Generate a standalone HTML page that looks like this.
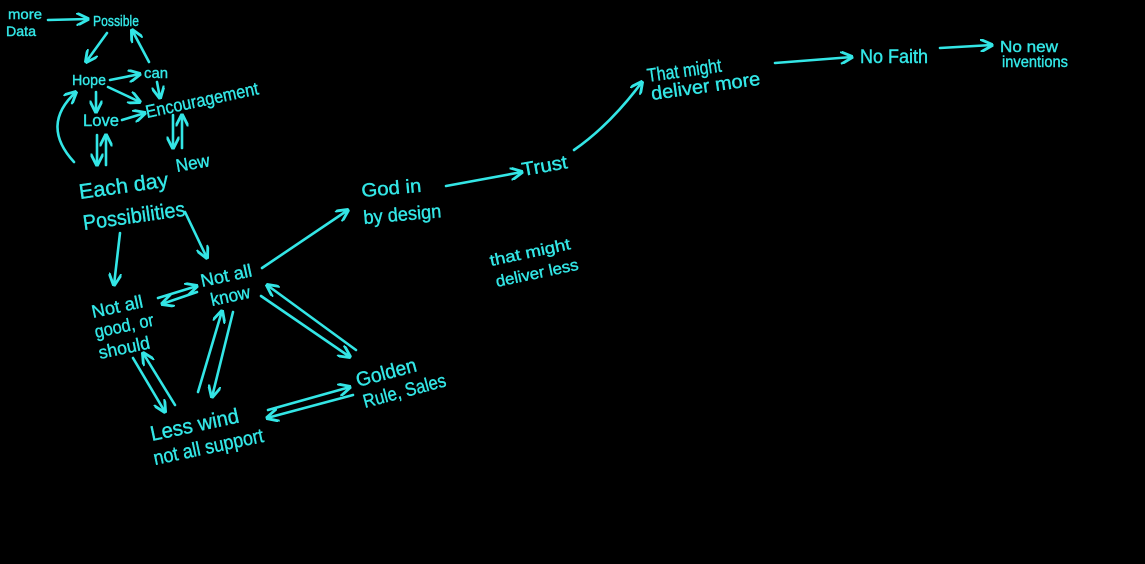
<!DOCTYPE html>
<html><head><meta charset="utf-8"><style>
html,body{margin:0;padding:0;background:#000;width:1145px;height:564px;overflow:hidden}
svg text{font-family:"Liberation Sans",sans-serif;fill:#33e6e6;stroke:#33e6e6;stroke-width:0.4}
</style></head><body>
<svg width="1145" height="564" viewBox="0 0 1145 564" xmlns="http://www.w3.org/2000/svg">
<defs><marker id="a" viewBox="0 0 10 10" refX="9" refY="5" markerWidth="5" markerHeight="5" orient="auto-start-reverse"><path d="M0,0 L10,5 L0,10" fill="none" stroke="#33e6e6" stroke-width="2.2"/></marker></defs>
<g stroke="#33e6e6" stroke-width="2.6" fill="none" marker-end="url(#a)" stroke-linecap="round">
<line x1="48" y1="20" x2="88" y2="19"/>
<line x1="107" y1="33" x2="86" y2="62"/>
<line x1="149" y1="62" x2="132" y2="30"/>
<line x1="110" y1="80" x2="140" y2="74"/>
<line x1="157" y1="82" x2="160" y2="98"/>
<line x1="108" y1="87" x2="140" y2="102"/>
<line x1="96" y1="92" x2="96" y2="112"/>
<line x1="122" y1="120" x2="145" y2="113"/>
<line x1="97" y1="135" x2="97" y2="165"/>
<line x1="106" y1="165" x2="106" y2="135"/>
<line x1="173" y1="115" x2="173" y2="148"/>
<line x1="182" y1="148" x2="182" y2="115"/>
<path d="M74,162 Q40,125 76,92"/>
<line x1="120" y1="233" x2="114" y2="285"/>
<line x1="185" y1="212" x2="207" y2="258"/>
<line x1="158" y1="298" x2="197" y2="286"/>
<line x1="197" y1="292" x2="162" y2="304"/>
<line x1="133" y1="358" x2="165" y2="412"/>
<line x1="175" y1="405" x2="143" y2="353"/>
<line x1="198" y1="392" x2="222" y2="311"/>
<line x1="233" y1="312" x2="212" y2="397"/>
<line x1="261" y1="296" x2="350" y2="357"/>
<line x1="356" y1="350" x2="267" y2="285"/>
<line x1="268" y1="410" x2="350" y2="387"/>
<line x1="353" y1="395" x2="267" y2="418"/>
<line x1="262" y1="268" x2="348" y2="210"/>
<line x1="446" y1="186" x2="522" y2="172"/>
<path d="M574,150 Q610,125 642,82"/>
<line x1="775" y1="63" x2="852" y2="57"/>
<line x1="940" y1="48" x2="992" y2="45"/>
</g>
<g>
<text lengthAdjust="spacingAndGlyphs" x="8" y="19" font-size="14" textLength="34">more</text>
<text lengthAdjust="spacingAndGlyphs" x="6" y="36" font-size="14" textLength="30">Data</text>
<text lengthAdjust="spacingAndGlyphs" x="93" y="26" font-size="15" textLength="46">Possible</text>
<text lengthAdjust="spacingAndGlyphs" x="72" y="85" font-size="15" textLength="34">Hope</text>
<text lengthAdjust="spacingAndGlyphs" x="144" y="78" font-size="15" textLength="24">can</text>
<text lengthAdjust="spacingAndGlyphs" x="83" y="126" font-size="17" textLength="36">Love</text>
<text lengthAdjust="spacingAndGlyphs" x="147" y="118" font-size="18" textLength="115" transform="rotate(-12 147 118)">Encouragement</text>
<text lengthAdjust="spacingAndGlyphs" x="177" y="172" font-size="18" textLength="34" transform="rotate(-10 177 172)">New</text>
<text lengthAdjust="spacingAndGlyphs" x="80" y="199" font-size="21" textLength="90" transform="rotate(-8 80 199)">Each day</text>
<text lengthAdjust="spacingAndGlyphs" x="84" y="230" font-size="21" textLength="103" transform="rotate(-8 84 230)">Possibilities</text>
<text lengthAdjust="spacingAndGlyphs" x="202" y="287" font-size="18" textLength="52" transform="rotate(-12 202 287)">Not all</text>
<text lengthAdjust="spacingAndGlyphs" x="212" y="306" font-size="18" textLength="40" transform="rotate(-12 212 306)">know</text>
<text lengthAdjust="spacingAndGlyphs" x="93" y="318" font-size="18" textLength="52" transform="rotate(-12 93 318)">Not all</text>
<text lengthAdjust="spacingAndGlyphs" x="96" y="338" font-size="18" textLength="60" transform="rotate(-12 96 338)">good, or</text>
<text lengthAdjust="spacingAndGlyphs" x="100" y="359" font-size="18" textLength="52" transform="rotate(-12 100 359)">should</text>
<text lengthAdjust="spacingAndGlyphs" x="358" y="387" font-size="20" textLength="62" transform="rotate(-15 358 387)">Golden</text>
<text lengthAdjust="spacingAndGlyphs" x="365" y="408" font-size="19" textLength="85" transform="rotate(-15 365 408)">Rule, Sales</text>
<text lengthAdjust="spacingAndGlyphs" x="152" y="441" font-size="21" textLength="90" transform="rotate(-12 152 441)">Less wind</text>
<text lengthAdjust="spacingAndGlyphs" x="155" y="465" font-size="20" textLength="112" transform="rotate(-12 155 465)">not all support</text>
<text lengthAdjust="spacingAndGlyphs" x="362" y="197" font-size="19" textLength="60" transform="rotate(-5 362 197)">God in</text>
<text lengthAdjust="spacingAndGlyphs" x="364" y="224" font-size="19" textLength="78" transform="rotate(-5 364 224)">by design</text>
<text lengthAdjust="spacingAndGlyphs" x="523" y="176" font-size="19" textLength="46" transform="rotate(-10 523 176)">Trust</text>
<text lengthAdjust="spacingAndGlyphs" x="648" y="82" font-size="19" textLength="75" transform="rotate(-8 648 82)">That might</text>
<text lengthAdjust="spacingAndGlyphs" x="652" y="100" font-size="19" textLength="110" transform="rotate(-8 652 100)">deliver more</text>
<text lengthAdjust="spacingAndGlyphs" x="860" y="63" font-size="19" textLength="68">No Faith</text>
<text lengthAdjust="spacingAndGlyphs" x="1000" y="52" font-size="16" textLength="58">No new</text>
<text lengthAdjust="spacingAndGlyphs" x="1002" y="67" font-size="16" textLength="66">inventions</text>
<text lengthAdjust="spacingAndGlyphs" x="491" y="266" font-size="16" textLength="82" transform="rotate(-12 491 266)">that might</text>
<text lengthAdjust="spacingAndGlyphs" x="497" y="287" font-size="16" textLength="84" transform="rotate(-12 497 287)">deliver less</text>
</g>
</svg>
</body></html>
